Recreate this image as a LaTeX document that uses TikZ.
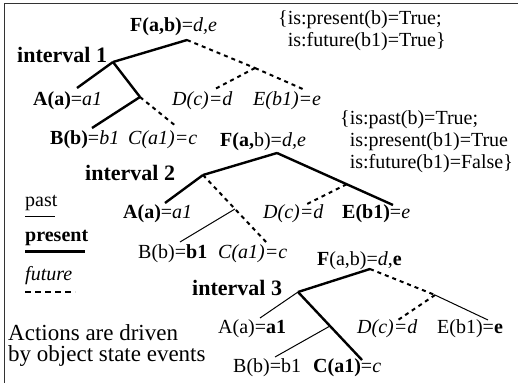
\documentclass[tikz,border=0pt]{standalone}
\usepackage{fontspec}
\setmainfont{Liberation Serif}
\usetikzlibrary{calc}
\begin{document}
\begin{tikzpicture}[x=1pt,y=-1pt,
  lbl/.style={inner sep=0pt, anchor=base west, font=\fontsize{20}{22}\selectfont},
  ivl/.style={inner sep=0pt, anchor=base west, font=\fontsize{22}{22}\selectfont\bfseries},
  big/.style={inner sep=0pt, anchor=base west, font=\fontsize{23}{22}\selectfont},
  presline/.style={line width=2.4pt},
  pastline/.style={line width=1pt},
  futline/.style={line width=2pt, dash pattern=on 4pt off 4pt},
  frameline/.style={line width=1.5pt, draw=black!80}]
\useasboundingbox (0,0) rectangle (518,383);
\fill[white] (0,0) rectangle (518,383);
\coordinate (ftl) at (4.5,3.5);
\coordinate (ftr) at (518,3.5);
\coordinate (fbl) at (4.5,383);
\draw[frameline] (ftr) -- (ftl) -- (fbl);

% ---------- interval 1 ----------
\node[lbl] (F1) at (130,31) {\textbf{F(a,b)}=\textit{d,e}};
\node[ivl] (I1) at (17,62) {interval 1};
\node[lbl] (A1) at (33,105) {\textbf{A(a)}=\textit{a1}};
\node[lbl] (B1) at (50,144) {\textbf{B(b)}=\textit{b1}};
\node[lbl] (C1) at (128,144) {\textit{C(a1)=c}};
\node[lbl] (D1) at (172,105) {\textit{D(c)=d}};
\node[lbl] (E1) at (253,105) {\textit{E(b1)=e}};
\node[lbl] (S1a) at (278,24) {\{is:present(b)=True;};
\node[lbl] (S1b) at (287.6,46) {is:future(b1)=True\}};

\coordinate (f1) at (187,40);
\coordinate (l1) at (113,62);
\coordinate (r1) at (255,68);
\coordinate (a1e) at (77,88);
\coordinate (m1) at (140,97);
\coordinate (b1e) at (92,128);
\coordinate (c1e) at (177,127);
\coordinate (d1e) at (213,90);
\coordinate (e1e) at (305,90);
\draw[presline] (f1) -- (l1);
\draw[futline] (f1) -- (r1);
\draw[presline] (l1) -- (a1e);
\draw[presline] (l1) -- (m1);
\draw[presline] (m1) -- (b1e);
\draw[futline] (m1) -- (c1e);
\draw[futline] (r1) -- (d1e);
\draw[futline] (r1) -- (e1e);

% ---------- interval 2 ----------
\node[lbl] (F2) at (220,146) {\textbf{F(a,}b)=\textit{d,e}};
\node[ivl] (I2) at (85,180) {interval 2};
\node[lbl] (A2) at (123,218) {\textbf{A(a)}=\textit{a1}};
\node[lbl] (D2) at (263,218) {\textit{D(c)=d}};
\node[lbl] (E2) at (342,218) {\textbf{E(b1)}=\textit{e}};
\node[lbl] (B2) at (138,258) {B(b)=\textbf{b1}};
\node[lbl] (C2) at (218,258) {\textit{C(a1)=c}};
\node[lbl] (S2a) at (340,124) {\{is:past(b)=True;};
\node[lbl] (S2b) at (349.6,146) {is:present(b1)=True};
\node[lbl] (S2c) at (349.6,168) {is:future(b1)=False\}};

\coordinate (f2) at (277,153);
\coordinate (l2) at (203,175);
\coordinate (e2e) at (393,205);
\coordinate (r2) at ($(f2)!0.6!(e2e)$);
\coordinate (d2e) at (305,205);
\coordinate (a2e) at (165,203);
\coordinate (c2e) at (267,243);
\coordinate (m2) at ($(l2)!0.5!(c2e)$);
\coordinate (b2e) at (180,242);
\draw[presline] (f2) -- (l2);
\draw[presline] (f2) -- (e2e);
\draw[futline] (r2) -- (d2e);
\draw[presline] (l2) -- (a2e);
\draw[futline] (l2) -- (c2e);
\draw[pastline] (m2) -- (b2e);

% ---------- interval 3 ----------
\node[lbl] (F3) at (317,265) {\textbf{F}(a,b)=\textit{d},\textbf{e}};
\node[ivl] (I3) at (192,295) {interval 3};
\node[lbl] (A3) at (218,333) {A(a)=\textbf{a1}};
\node[lbl] (D3) at (357,333) {\textit{D(c)=d}};
\node[lbl] (E3) at (437,333) {E(b1)=\textbf{e}};
\node[lbl] (B3) at (233,372) {B(b)=b1};
\node[lbl] (C3) at (313,372) {\textbf{C(a1)}=\textit{c}};

\coordinate (f3) at (370,269);
\coordinate (l3) at (298,292);
\coordinate (a3e) at (260,318);
\coordinate (c3e) at (362,360);
\coordinate (m3) at ($(l3)!0.5!(c3e)$);
\coordinate (b3e) at (275,357);
\coordinate (r3) at (435,295);
\coordinate (d3e) at (398,320);
\coordinate (e3e) at (488,320);
\draw[presline] (f3) -- (l3);
\draw[pastline] (l3) -- (a3e);
\draw[presline] (l3) -- (c3e);
\draw[pastline] (m3) -- (b3e);
\draw[futline] (f3) -- (r3);
\draw[futline] (r3) -- (d3e);
\draw[pastline] (r3) -- (e3e);

% ---------- legend ----------
\node[lbl] (Lpast) at (25,206) {past};
\node[lbl] (Lpres) at (25,241) {\textbf{present}};
\node[lbl] (Lfut) at (25,280) {\textit{future}};
\coordinate (lp1) at (25,216); \coordinate (lp2) at (55,216);
\coordinate (lr1) at (25,251); \coordinate (lr2) at (85,251);
\coordinate (lf1) at (25,292); \coordinate (lf2) at (75,292);
\draw[pastline] (lp1) -- (lp2);
\draw[line width=3pt] (lr1) -- (lr2);
\draw[line width=2pt, dash pattern=on 6pt off 4pt] (lf1) -- (lf2);

\node[big] (N1) at (8,340) {Actions are driven};
\node[big] (N2) at (8,361) {by object state events};
\end{tikzpicture}
\end{document}
